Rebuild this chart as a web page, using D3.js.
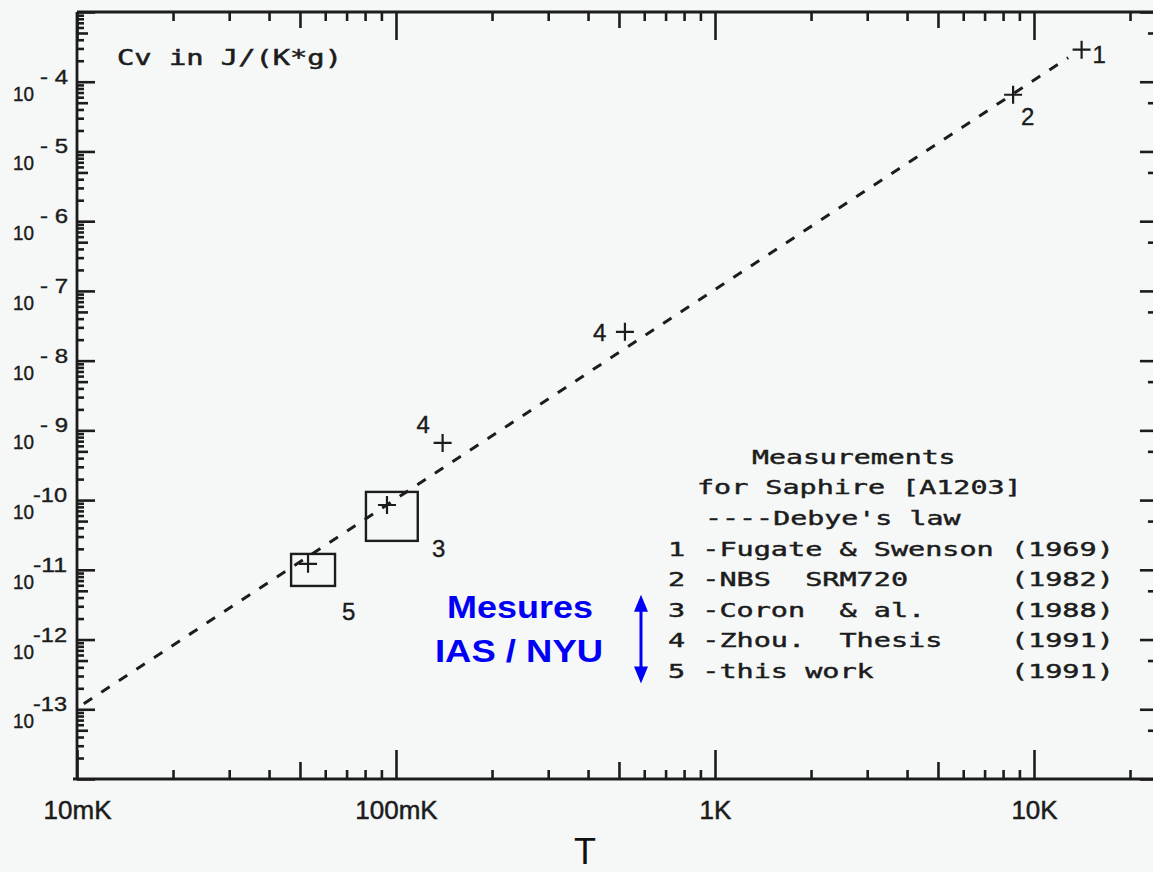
<!DOCTYPE html>
<html><head><meta charset="utf-8">
<script src="https://cdn.jsdelivr.net/npm/d3@7"></script>
<style>
html,body{margin:0;padding:0;background:#f6f8f8;}
svg{display:block;}
</style></head><body>
<svg id="chart" width="1153" height="872"></svg>
<script>
// ---------------- data ----------------
const xTickValues = [0.01, 0.1, 1, 10];
const xTickLabels = ["10mK", "100mK", "1K", "10K"];
const yTickExponents = [-4, -5, -6, -7, -8, -9, -10, -11, -12, -13];
const yTickLabels = ["- 4", "- 5", "- 6", "- 7", "- 8", "- 9", "-10", "-11", "-12", "-13"];
const yAxisTitle = "Cv in J/(K*g)";
const xAxisTitle = "T";

// Debye's law (dashed), T in K, Cv in J/(K*g)
const debyeT = [0.0105, 12.8];
const debyeCv = [1.2e-13, 2.21e-4];

// measured points (plus markers)
const pointIds = ["1", "2", "3", "4", "4", "5"];
const pointT = [14.1, 8.6, 0.0937, 0.140, 0.522, 0.053];
const pointCv = [2.88e-4, 6.5e-5, 8.5e-11, 6.6e-10, 2.59e-8, 1.22e-11];

// uncertainty boxes
const boxIds = ["3", "5"];
const boxTLow = [0.0805, 0.0469];
const boxTHigh = [0.117, 0.0644];
const boxCvLow = [2.6e-11, 5.87e-12];
const boxCvHigh = [1.31e-10, 1.69e-11];

const legendTitle = ["Measurements", "for Saphire [A1203]", "----Debye's law"];
const legendNames = ["1 -Fugate & Swenson", "2 -NBS  SRM720", "3 -Coron  & al.", "4 -Zhou.  Thesis", "5 -this work"];
const legendYears = ["(1969)", "(1982)", "(1988)", "(1991)", "(1991)"];
const noteLines = ["Mesures", "IAS / NYU"];

// ---------------- layout ----------------
const INK = "#1c1c1c";
const svg = d3.select("#chart");
const X0 = 77, DEC_X = 319;
const x = d3.scaleLog().domain([0.01, 25]).range([X0, X0 + DEC_X * Math.log10(2500)]);
const y = d3.scaleLog().domain([1e-14, 1e-3]).range([779, 12]);
const [xL, xR] = x.range();
const [yB, yT] = y.range();

function logTicks(lo, hi) {
  const major = [], mid = [], minor = [];
  for (let e = Math.floor(Math.log10(lo)); e <= Math.ceil(Math.log10(hi)); e++) {
    for (let k = 1; k <= 9; k++) {
      const v = k * Math.pow(10, e);
      if (v < lo * 0.999 || v > hi * 1.001) continue;
      (k === 1 ? major : k === 5 ? mid : minor).push(v);
    }
  }
  return { major, mid, minor };
}
const xt = logTicks(0.01, 25);
const yt = logTicks(1e-14, 1e-3);

function styleAxis(g) {
  g.select(".domain").remove();
  g.selectAll(".tick line").attr("stroke", INK).attr("stroke-width", 2.6);
}

// bottom axis
const gb = svg.append("g").attr("transform", `translate(0,${yB})`);
gb.append("g").call(d3.axisBottom(x).tickValues(xt.minor).tickSize(-9).tickFormat("")).call(styleAxis);
gb.append("g").call(d3.axisBottom(x).tickValues(xt.mid).tickSize(-17).tickFormat("")).call(styleAxis);
gb.append("g").call(d3.axisBottom(x).tickValues(xTickValues).tickSize(-29).tickPadding(22)
    .tickFormat(d => xTickLabels[xTickValues.indexOf(d)])).call(styleAxis)
  .selectAll("text").attr("font-family", "Liberation Sans, Arial, sans-serif")
  .attr("font-size", 26).attr("fill", INK).attr("stroke", INK).attr("stroke-width", 0.5);

// top axis
const gt = svg.append("g").attr("transform", `translate(0,${yT})`);
gt.append("g").call(d3.axisTop(x).tickValues(xt.minor).tickSize(-9).tickFormat("")).call(styleAxis);
gt.append("g").call(d3.axisTop(x).tickValues(xt.mid).tickSize(-16).tickFormat("")).call(styleAxis);
gt.append("g").call(d3.axisTop(x).tickValues(xt.major).tickSize(-28).tickFormat("")).call(styleAxis);

// left axis
const gl = svg.append("g").attr("transform", `translate(${xL},0)`);
gl.append("g").call(d3.axisLeft(y).tickValues(yt.minor).tickSize(-7).tickFormat("")).call(styleAxis);
gl.append("g").call(d3.axisLeft(y).tickValues(yt.mid).tickSize(-11).tickFormat("")).call(styleAxis);
gl.append("g").call(d3.axisLeft(y).tickValues(yt.major).tickSize(-18).tickFormat("")).call(styleAxis);

// right axis
const gr = svg.append("g").attr("transform", `translate(${xR},0)`);
gr.append("g").call(d3.axisRight(y).tickValues(yt.minor).tickSize(-7).tickFormat("")).call(styleAxis);
gr.append("g").call(d3.axisRight(y).tickValues(yt.mid).tickSize(-13).tickFormat("")).call(styleAxis);
gr.append("g").call(d3.axisRight(y).tickValues(yt.major).tickSize(-21).tickFormat("")).call(styleAxis);

// frame
svg.append("path")
  .attr("d", `M${xL},${yT}H${xR}V${yB}H${xL - 4}M${xL},${yB}V${yT}`)
  .attr("fill", "none").attr("stroke", INK).attr("stroke-width", 2.8);

// y tick labels 10^-n
const yl = svg.append("g").attr("font-family", "Liberation Sans, Arial, sans-serif")
  .attr("fill", INK).attr("stroke", INK).attr("stroke-width", 0.4);
yTickExponents.forEach((e, i) => {
  const yy = y(Math.pow(10, e));
  yl.append("text").attr("x", 13).attr("y", yy + 19).attr("font-size", 20)
    .attr("textLength", 21).attr("lengthAdjust", "spacingAndGlyphs").text("10");
  const lab = yTickLabels[i];
  const single = lab[1] === " ";
  yl.append("text").attr("x", single ? 40 : 33).attr("y", yy + 2)
    .attr("font-size", 20)
    .attr("textLength", single ? 28 : 34).attr("lengthAdjust", "spacingAndGlyphs")
    .text(lab.replace(/ /g, "\u00A0"));
});

// y axis title
svg.append("text").attr("x", 117).attr("y", 65)
  .attr("font-family", "DejaVu Sans Mono, Liberation Mono, monospace").attr("font-size", 21)
  .attr("fill", INK).attr("stroke", INK).attr("stroke-width", 0.5)
  .attr("textLength", 225).attr("lengthAdjust", "spacingAndGlyphs").text(yAxisTitle);

// x axis title
svg.append("text").attr("x", 585).attr("y", 864).attr("text-anchor", "middle")
  .attr("font-family", "Liberation Sans, Arial, sans-serif").attr("font-size", 36)
  .attr("fill", "#111").text(xAxisTitle);

// Debye line
const debye = debyeT.map((t, i) => [t, debyeCv[i]]);
svg.append("path").datum(debye)
  .attr("d", d3.line().x(d => x(d[0])).y(d => y(d[1])))
  .attr("fill", "none").attr("stroke", INK).attr("stroke-width", 3)
  .attr("stroke-dasharray", "10,11");

// boxes
boxIds.forEach((id, i) => {
  svg.append("rect")
    .attr("x", x(boxTLow[i])).attr("y", y(boxCvHigh[i]))
    .attr("width", x(boxTHigh[i]) - x(boxTLow[i]))
    .attr("height", y(boxCvLow[i]) - y(boxCvHigh[i]))
    .attr("fill", "none").attr("stroke", INK).attr("stroke-width", 2.4);
});

// plus markers + labels
const labelDx = [11, 8, 45, -26, -32, 34];
const labelDy = [13, 30, 52, -10, 9, 56];
const P = 9;
pointIds.forEach((id, i) => {
  const px = x(pointT[i]), py = y(pointCv[i]);
  svg.append("path").attr("d", `M${px - P},${py}H${px + P}M${px},${py - P}V${py + P}`)
    .attr("stroke", INK).attr("stroke-width", 2.2).attr("fill", "none");
  svg.append("text").attr("x", px + labelDx[i]).attr("y", py + labelDy[i])
    .attr("font-family", "Liberation Sans, Arial, sans-serif").attr("font-size", 24)
    .attr("fill", INK).attr("stroke", INK).attr("stroke-width", 0.4).text(id);
});

// legend (plotter-style monospace, ~17.3px pitch)
const PITCH = 17.3;
const lg = svg.append("g").attr("font-family", "DejaVu Sans Mono, Liberation Mono, monospace")
  .attr("font-size", 20).attr("fill", INK).attr("stroke", INK).attr("stroke-width", 0.45);
function monoText(str, x0, y0) {
  lg.append("text").attr("x", x0).attr("y", y0)
    .attr("textLength", str.length * PITCH - 4).attr("lengthAdjust", "spacingAndGlyphs")
    .text(str.replace(/ /g, "\u00A0"));
}
const titleX = [752, 697, 705], titleY = [464, 494, 525];
legendTitle.forEach((t, i) => monoText(t, titleX[i], titleY[i]));
const rowY0 = 556, rowStep = 30.4;
legendNames.forEach((n, i) => {
  monoText(n.padEnd(20, " ") + legendYears[i], 668, rowY0 + i * rowStep);
});

// blue annotation
const BLUE = "#0000f5";
const ng = svg.append("g").attr("font-family", "Liberation Sans, Arial, sans-serif")
  .attr("font-weight", "bold").attr("font-size", 31).attr("fill", BLUE);
ng.append("text").attr("x", 447).attr("y", 618).attr("textLength", 146)
  .attr("lengthAdjust", "spacingAndGlyphs").text(noteLines[0]);
ng.append("text").attr("x", 435).attr("y", 662).attr("textLength", 168)
  .attr("lengthAdjust", "spacingAndGlyphs").text(noteLines[1]);
// double arrow spanning legend rows 3..5
const aTop = rowY0 + 2 * rowStep - 22, aBot = rowY0 + 4 * rowStep + 6, ax = 641;
svg.append("line").attr("x1", ax).attr("x2", ax).attr("y1", aTop + 12).attr("y2", aBot - 12)
  .attr("stroke", BLUE).attr("stroke-width", 3);
svg.append("path").attr("d", `M${ax},${aTop}L${ax - 7},${aTop + 17}L${ax + 7},${aTop + 17}Z`).attr("fill", BLUE);
svg.append("path").attr("d", `M${ax},${aBot}L${ax - 7},${aBot - 17}L${ax + 7},${aBot - 17}Z`).attr("fill", BLUE);
</script>
</body></html>
